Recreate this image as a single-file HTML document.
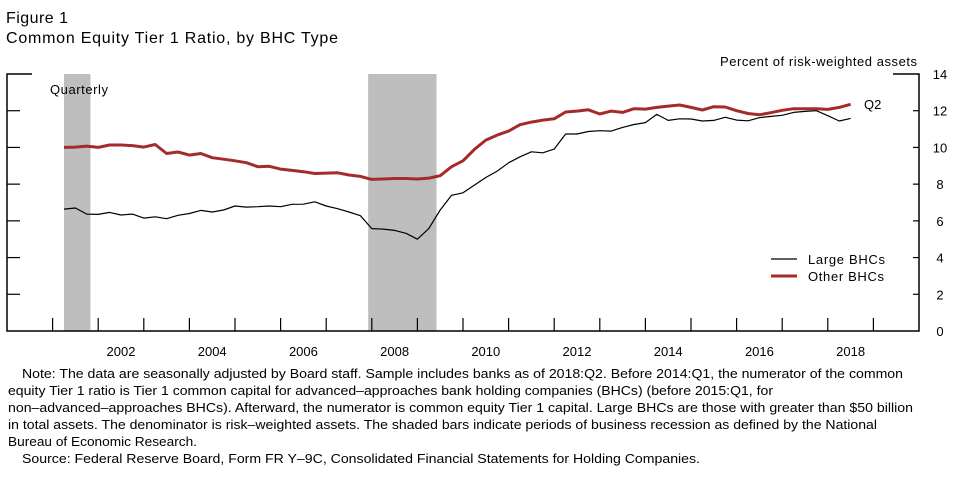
<!DOCTYPE html>
<html><head><meta charset="utf-8">
<style>
html,body{margin:0;padding:0;background:#fff;}
body{width:961px;height:481px;overflow:hidden;position:relative;font-family:"Liberation Sans",sans-serif;color:#000;}
svg{position:absolute;left:0;top:0;}
</style></head>
<body>
<svg width="961" height="481" font-family="Liberation Sans, sans-serif">
<text x="6" y="23" font-size="16" textLength="62">Figure 1</text>
<text x="6" y="43" font-size="16" textLength="332">Common Equity Tier 1 Ratio, by BHC Type</text>
<text x="720" y="66" font-size="13" textLength="197">Percent of risk-weighted assets</text>
<g id="rec"></g>
<g id="axes" stroke="#000" stroke-width="1.5" fill="none"></g>
<g id="ticks"></g>
<g id="lines"></g>
<text x="50" y="94" font-size="13" textLength="58">Quarterly</text>
<text x="864" y="109" font-size="13">Q2</text>
<g>
<line x1="771" y1="259" x2="797" y2="259" stroke="#000" stroke-width="1.2"/>
<text x="808" y="264" font-size="13" textLength="77">Large BHCs</text>
<line x1="771" y1="276" x2="797" y2="276" stroke="#a52a2a" stroke-width="3"/>
<text x="808" y="281" font-size="13" textLength="76">Other BHCs</text>
</g>
<g font-size="13">
<text x="22" y="378" textLength="881" lengthAdjust="spacingAndGlyphs">Note: The data are seasonally adjusted by Board staff. Sample includes banks as of 2018:Q2.  Before 2014:Q1, the numerator of the common</text>
<text x="8" y="395" textLength="765" lengthAdjust="spacingAndGlyphs">equity Tier 1 ratio is Tier 1 common capital for advanced–approaches bank holding companies (BHCs) (before 2015:Q1, for</text>
<text x="8" y="412" textLength="905" lengthAdjust="spacingAndGlyphs">non–advanced–approaches BHCs).  Afterward, the numerator is common equity Tier 1 capital. Large BHCs are those with greater than $50 billion</text>
<text x="8" y="429" textLength="869" lengthAdjust="spacingAndGlyphs">in total assets. The denominator is risk–weighted assets. The shaded bars indicate periods of business recession as defined by the National</text>
<text x="8" y="446" textLength="189" lengthAdjust="spacingAndGlyphs">Bureau of Economic Research.</text>
<text x="22" y="463" textLength="678" lengthAdjust="spacingAndGlyphs">Source:  Federal Reserve Board, Form FR Y–9C, Consolidated Financial Statements for Holding Companies.</text>
</g>
</svg>
<script>
const startYear = 2001.25; // 2001:Q1, quarterly
const largeBHC = [6.64,6.7,6.37,6.35,6.46,6.32,6.37,6.15,6.22,6.12,6.3,6.4,6.57,6.48,6.59,6.81,6.75,6.77,6.81,6.77,6.9,6.91,7.04,6.81,6.66,6.48,6.28,5.58,5.55,5.48,5.32,5.0,5.58,6.59,7.39,7.53,7.95,8.36,8.71,9.16,9.49,9.76,9.71,9.91,10.73,10.73,10.87,10.91,10.89,11.09,11.25,11.35,11.8,11.47,11.56,11.55,11.44,11.47,11.64,11.49,11.45,11.62,11.69,11.75,11.91,11.96,12.0,11.73,11.44,11.58];
const otherBHC = [10.0,10.02,10.07,10.0,10.13,10.13,10.1,10.02,10.16,9.67,9.75,9.58,9.67,9.44,9.36,9.27,9.17,8.95,8.97,8.82,8.75,8.68,8.58,8.6,8.62,8.5,8.42,8.26,8.28,8.31,8.31,8.28,8.33,8.46,8.95,9.27,9.89,10.4,10.67,10.89,11.24,11.38,11.49,11.56,11.93,11.98,12.05,11.82,11.98,11.91,12.11,12.09,12.18,12.25,12.31,12.18,12.04,12.22,12.2,12.0,11.85,11.78,11.89,12.02,12.11,12.11,12.11,12.07,12.18,12.35];
const recessions = [[2001.25,2001.83],[2007.92,2009.42]];
const yTicks = [0,2,4,6,8,10,12,14];
const xLabels = [2002,2004,2006,2008,2010,2012,2014,2016,2018];

const NS="http://www.w3.org/2000/svg";
const L=7,R=919,T=74,B=331;
const x=t=>L+(t-2000)/20*(R-L);
const y=v=>B-v/14*(B-T);
function mk(tag,attrs,parent){const e=document.createElementNS(NS,tag);for(const k in attrs)e.setAttribute(k,attrs[k]);parent.appendChild(e);return e;}
const rec=document.getElementById('rec'),axes=document.getElementById('axes'),ticks=document.getElementById('ticks'),lines=document.getElementById('lines');
recessions.forEach(r=>{
 const e=mk('rect',{x:x(r[0]),y:T,width:x(r[1])-x(r[0]),height:B-T,fill:'#bebebe'},rec);
 
 
});
let a=mk('path',{d:`M${L+25},${T}H${L}V${B}H${R}V${T}H${R-26}`},axes);


for(let yr=2001;yr<=2019;yr++){
 const e=mk('line',{x1:x(yr),x2:x(yr),y1:B,y2:B-13,stroke:'#000','stroke-width':1.2},ticks);
 
 
}
xLabels.forEach(yr=>{
 const e=mk('text',{x:x(yr+0.5),y:B+25,'font-size':13,'text-anchor':'middle'},ticks);
 e.textContent=yr;
 
 
});
yTicks.forEach(v=>{
 if(v>0&&v<14){
  const e1=mk('line',{x1:L,x2:L+13,y1:y(v),y2:y(v),stroke:'#000','stroke-width':1.2},ticks);
  
  
  const e2=mk('line',{x1:R-6,x2:R,y1:y(v),y2:y(v),stroke:'#000','stroke-width':1.2},ticks);
  
  
 }
 const t=mk('text',{x:940,y:y(v)+5,'font-size':13,'text-anchor':'middle'},ticks);
 t.textContent=v;
 
 
});
function series(vals,color,w,name){
 const d=vals.map((v,i)=>(i?'L':'M')+x(startYear+i*0.25).toFixed(1)+','+y(v).toFixed(1)).join('');
 const e=mk('path',{d:d,fill:'none',stroke:color,'stroke-width':w,'stroke-linejoin':'round'},lines);
 
 
}
series(otherBHC,'#a52a2a',3,'other-bhcs-line');
series(largeBHC,'#000',1.2,'large-bhcs-line');
</script>
</body></html>
